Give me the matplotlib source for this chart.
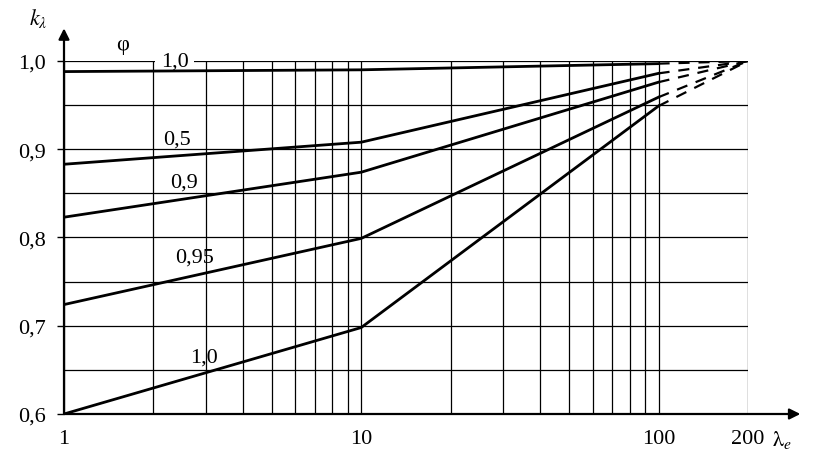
import matplotlib
matplotlib.use('Agg')
import matplotlib.pyplot as plt

plt.rcParams['font.family'] = ['Liberation Serif', 'DejaVu Serif']
plt.rcParams['mathtext.fontset'] = 'stix'

# slenderness lambda_e (log axis), break points of every curve
lam_solid = [1, 10, 100]
lam_dash = [100, 200]

# k_lambda for each phi
phi_labels = ['1,0', '0,5', '0,9', '0,95', '1,0']
k_1 = [0.988, 0.990, 0.997]
k_05 = [0.883, 0.908, 0.986]
k_09 = [0.823, 0.874, 0.976]
k_095 = [0.724, 0.799, 0.959]
k_10 = [0.600, 0.698, 0.949]
k_end = 1.0

curves = [k_1, k_05, k_09, k_095, k_10]

x_grid = [1, 2, 3, 4, 5, 6, 7, 8, 9, 10, 20, 30, 40, 50, 60, 70, 80, 90, 100, 200]
y_grid = [0.6, 0.65, 0.7, 0.75, 0.8, 0.85, 0.9, 0.95, 1.0]
y_ticks = [0.6, 0.7, 0.8, 0.9, 1.0]
y_ticklabels = ['0,6', '0,7', '0,8', '0,9', '1,0']
x_ticks = [1, 10, 100, 200]
x_ticklabels = ['1', '10', '100', '200']

fig = plt.figure(figsize=(8.33, 4.64), dpi=100)
ax = fig.add_axes([64/833, 49/464, 684/833, 353/464])
ax.set_xscale('log')
ax.set_xlim(1, 200)
ax.set_ylim(0.6, 1.0)
for s in ax.spines.values():
    s.set_visible(False)

# grid
for xv in x_grid:
    ax.plot([xv, xv], [0.6, 1.0], color='black', lw=0.9, zorder=1)
for yv in y_grid:
    ax.plot([1, 200], [yv, yv], color='black', lw=0.9, zorder=1)

# curves
for k in curves:
    ax.plot(lam_solid, k, color='black', lw=2.0, zorder=3)
    ax.plot(lam_dash, [k[-1], k_end], color='black', lw=1.6,
            linestyle=(0, (5, 4)), zorder=3)

# axes with arrows
ax.annotate('', xy=(1.0, 1.037), xytext=(1.0, 0.6), xycoords='data',
            arrowprops=dict(arrowstyle='-|>', color='black', lw=1.6,
                            mutation_scale=16, shrinkA=0, shrinkB=0),
            annotation_clip=False)
ax.annotate('', xy=(300, 0.6), xytext=(1.0, 0.6), xycoords='data',
            arrowprops=dict(arrowstyle='-|>', color='black', lw=1.6,
                            mutation_scale=16, shrinkA=0, shrinkB=0),
            annotation_clip=False)

ax.set_xticks(x_ticks)
ax.set_xticklabels(x_ticklabels, fontsize=16)
ax.set_xticks([], minor=True)
ax.tick_params(axis='x', length=0, pad=11)
ax.set_yticks(y_ticks)
ax.set_yticklabels(y_ticklabels, fontsize=16)
ax.tick_params(axis='y', length=5, width=1, direction='out', pad=8)

# curve labels (the top one sits on the 1.0 grid line and breaks it)
lbl_pos = [(2.12, 1.0), (2.15, 0.912), (2.27, 0.863), (2.36, 0.778), (2.66, 0.664)]
for (xl, yl), t in zip(lbl_pos, phi_labels):
    if yl == 1.0:
        ax.text(xl, yl, t, fontsize=16, ha='left', va='center', zorder=2,
                bbox=dict(facecolor='white', edgecolor='none', pad=4))
    else:
        ax.text(xl, yl, t, fontsize=16, ha='left', va='center', zorder=5)

ax.text(1.57, 1.019, 'φ', fontsize=16, ha='center', va='center')
fig.text(38/833, 1 - 18/464, r'$k_\lambda$', fontsize=16, ha='center', va='center')
fig.text(782/833, 1 - 440/464, r'$\mathrm{\lambda}_e$', fontsize=16, ha='center', va='center')

fig.savefig('out.png', dpi=100)
